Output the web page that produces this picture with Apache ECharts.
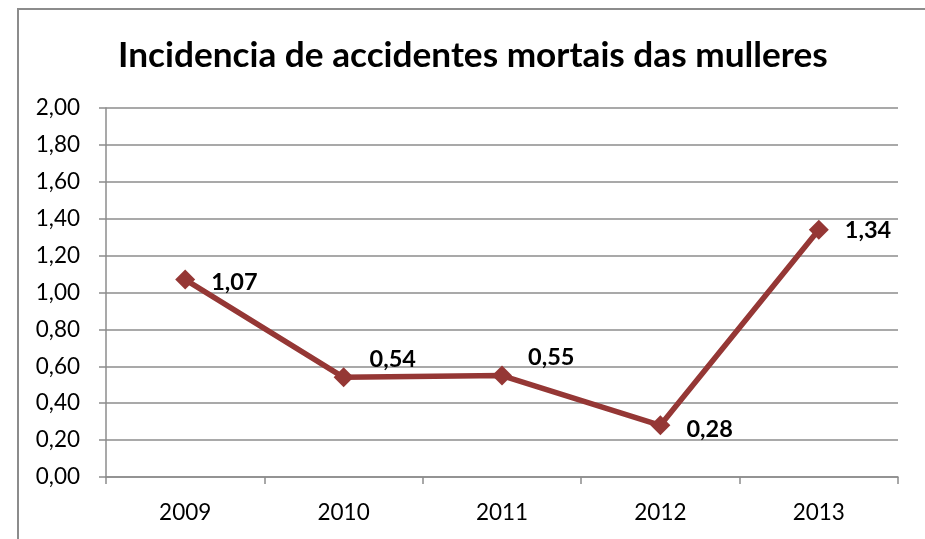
<!DOCTYPE html>
<html>
<head>
<meta charset="utf-8">
<script src="https://cdn.jsdelivr.net/npm/echarts@6/dist/echarts.min.js"></script>
<style>
  html, body { margin: 0; padding: 0; background: #fff; }
  #frame { position: absolute; left: 17px; top: 8px; width: 1000px; height: 1000px;
           border-left: 2px solid #8c8c8c; border-top: 2px solid #8c8c8c; }
  #chart { position: absolute; left: 0; top: 0; width: 925px; height: 539px; }
</style>
</head>
<body>
<div id="frame"></div>
<div id="chart"></div>
<script>
// datos do gráfico
const years = ['2009', '2010', '2011', '2012', '2013'];
const incidencia = [1.07, 0.54, 0.55, 0.28, 1.34];
// desprazamento das etiquetas (arriba / abaixo)
const labelOffsets = [[0, 3], [0, -18], [0, -18], [0, 4], [0, 1]];

const chart = echarts.init(document.getElementById('chart'), null, { renderer: 'canvas' });
const fmt = v => v.toFixed(2).replace('.', ',');
const font = 'Lato, "Noto Sans", sans-serif';

chart.setOption({
  animation: false,
  backgroundColor: 'transparent',
  title: {
    text: 'Incidencia de accidentes mortais das mulleres',
    left: 113,
    top: 33,
    textStyle: { fontFamily: font, fontSize: 35.2, fontWeight: 'bold', color: '#000' }
  },
  grid: { left: 106, right: 27, top: 108, bottom: 62 },
  xAxis: {
    type: 'category',
    data: years,
    boundaryGap: true,
    axisLine: { lineStyle: { color: '#8c8c8c', width: 1.5 } },
    axisTick: { show: true, length: 7, lineStyle: { color: '#8c8c8c', width: 1.5 } },
    axisLabel: { margin: 24, fontFamily: font, fontSize: 22.5, color: '#000' }
  },
  yAxis: {
    type: 'value',
    min: 0,
    max: 2,
    interval: 0.2,
    axisLine: { show: true, lineStyle: { color: '#8c8c8c', width: 1.5 } },
    axisTick: { show: true, length: 7, lineStyle: { color: '#8c8c8c', width: 1.5 } },
    splitLine: { lineStyle: { color: '#8c8c8c', width: 1.5 } },
    axisLabel: { margin: 26, fontFamily: font, fontSize: 22.5, color: '#000', formatter: v => fmt(v) }
  },
  series: [{
    type: 'line',
    data: incidencia.map((v, i) => ({
      value: v,
      label: { offset: labelOffsets[i] }
    })),
    symbol: 'diamond',
    symbolSize: 20,
    itemStyle: { color: '#953735' },
    lineStyle: { color: '#953735', width: 5.5 },
    label: {
      show: true,
      position: 'right',
      distance: 16,
      fontFamily: font,
      fontSize: 23.5,
      fontWeight: 'bold',
      color: '#000',
      formatter: p => fmt(p.value)
    }
  }]
});
</script>
</body>
</html>
